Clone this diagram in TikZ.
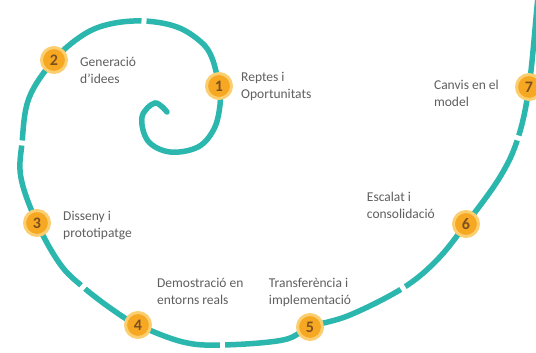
\documentclass[tikz,border=0pt]{standalone}
\usepackage{fontspec}
\setmainfont{Carlito}
\usepackage{tikz}
\usepackage{xcolor}
\usetikzlibrary{positioning,backgrounds}
\definecolor{spiralteal}{RGB}{43, 183, 173}
\definecolor{badgeorange}{RGB}{246, 168, 35}
\definecolor{badgehalo}{RGB}{251, 206, 112}
\definecolor{badgetext}{RGB}{125, 80, 30}
\definecolor{labelgray}{RGB}{95, 95, 95}
\tikzstyle{badge} = [
    circle,
    minimum size=25pt,
    inner sep=0pt,
    fill=badgeorange,
    draw=badgehalo,
    line width=3pt,
    text=badgetext,
    font=\bfseries\fontsize{16}{16}\selectfont
]
\tikzstyle{stage} = [
    align=left,
    inner sep=1pt,
    text=labelgray,
    font=\fontsize{13.5}{17}\selectfont
]
\tikzstyle{spiral} = [
    line width=5.5pt,
    draw=spiralteal,
    line cap=round
]
\tikzstyle{gap} = [
    draw=white,
    line width=5pt
]

\begin{document}
\begin{tikzpicture}[
                x=1pt,
                y=1pt
            ]
                \useasboundingbox (0,0) rectangle (536,353);
                \node[badge] (s1) at (219,267) {1};
                \node[badge] (s2) at (54,293) {2};
                \node[badge] (s3) at (37,130) {3};
                \node[badge] (s4) at (138,28) {4};
                \node[badge] (s5) at (310,26) {5};
                \node[badge] (s6) at (466,129) {6};
                \node[badge] (s7) at (529,266) {7};
                \node[stage, right=7pt of s1] (l1) {Reptes i\\Oportunitats};
                \node[stage, right=11pt of s2, yshift=-10pt] (l2) {Generació\\d'idees};
                \node[stage, right=11pt of s3, yshift=-3pt] (l3) {Disseny i\\prototipatge};
                \node[stage, above right=9pt and 8pt of s4] (l4) {Demostració en\\entorns reals};
                \node[stage, above=5pt of s5] (l5) {Transferència i\\implementació};
                \node[stage, left=16pt of s6, yshift=19pt] (l6) {Escalat i\\consolidació};
                \node[stage, left=15pt of s7, yshift=-6pt] (l7) {Canvis en el\\model};
                \coordinate (g1) at (144,332);
                \coordinate (g2) at (22,210);
                \coordinate (g3) at (83,66);
                \coordinate (g4) at (222,8);
                \coordinate (g5) at (403,65);
                \coordinate (g6) at (518,215);
                \begin{pgfonlayer}{background}
                    \fill[white] (0,0) rectangle (536,353);
                    \clip (0,0) rectangle (536,353);
                    \draw[spiral] plot[smooth, tension=0.6] coordinates {
                        (167,241) (155,250) (142,236) (148,212) (170,201) (198,206)
                        (214,224) (220,248) (s1.center) (212,295) (201,311) (177,326)
                        (g1) (110,329) (83,318) (s2.center) (29,255) (g2) (21,175)
                        (s3.center) (60,89) (g3) (113,43) (s4.center) (183,11) (g4)
                        (283,13) (s5.center) (350,38) (g5) (437,93) (s6.center)
                        (500,176) (g6) (s7.center) (537,346) (538,360)};
                    \foreach \g/\a in {g1/87, g2/-6, g3/49, g4/90, g5/122, g6/162}
                        \draw[gap] (\g) ++(\a:7) -- ++(\a+180:14);
                \end{pgfonlayer}
            \end{tikzpicture}
\end{document}
